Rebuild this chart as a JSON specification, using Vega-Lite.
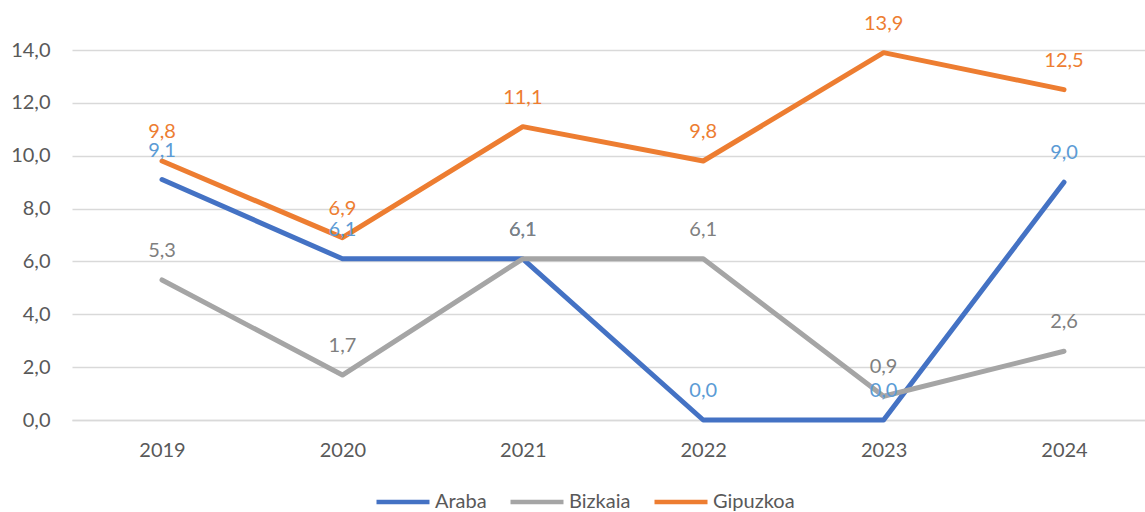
{
  "$schema": "https://vega.github.io/schema/vega-lite/v6.json",
  "width": 1073,
  "height": 370,
  "autosize": "none",
  "padding": {"left": 72, "top": 50, "right": 0, "bottom": 92},
  "background": "white",
  "config": {
    "locale": {"number": {"decimal": ",", "thousands": ".", "grouping": [3], "currency": ["", " €"]}},
    "view": {"stroke": null},
    "font": "Lato",
    "axis": {"labelFont": "Lato", "labelFontSize": 20, "labelColor": "#595959"},
    "legend": {"labelFont": "Lato", "labelFontSize": 20, "labelColor": "#595959"}
  },
  "data": {
    "values": [
      {"year": 2019, "series": "Araba", "value": 9.1},
      {"year": 2020, "series": "Araba", "value": 6.1},
      {"year": 2021, "series": "Araba", "value": 6.1},
      {"year": 2022, "series": "Araba", "value": 0.0},
      {"year": 2023, "series": "Araba", "value": 0.0},
      {"year": 2024, "series": "Araba", "value": 9.0},
      {"year": 2019, "series": "Bizkaia", "value": 5.3},
      {"year": 2020, "series": "Bizkaia", "value": 1.7},
      {"year": 2021, "series": "Bizkaia", "value": 6.1},
      {"year": 2022, "series": "Bizkaia", "value": 6.1},
      {"year": 2023, "series": "Bizkaia", "value": 0.9},
      {"year": 2024, "series": "Bizkaia", "value": 2.6},
      {"year": 2019, "series": "Gipuzkoa", "value": 9.8},
      {"year": 2020, "series": "Gipuzkoa", "value": 6.9},
      {"year": 2021, "series": "Gipuzkoa", "value": 11.1},
      {"year": 2022, "series": "Gipuzkoa", "value": 9.8},
      {"year": 2023, "series": "Gipuzkoa", "value": 13.9},
      {"year": 2024, "series": "Gipuzkoa", "value": 12.5}
    ]
  },
  "encoding": {
    "x": {
      "field": "year",
      "type": "quantitative",
      "scale": {"domain": [2018.501, 2024.449], "nice": false, "zero": false},
      "axis": {
        "title": null,
        "values": [2019, 2020, 2021, 2022, 2023, 2024],
        "format": "d",
        "grid": false,
        "ticks": false,
        "domain": true,
        "domainColor": "#d9d9d9",
        "domainWidth": 1.5,
        "labelPadding": 20
      }
    },
    "y": {
      "field": "value",
      "type": "quantitative",
      "scale": {"domain": [0, 14], "nice": false},
      "axis": {
        "title": null,
        "values": [0, 2, 4, 6, 8, 10, 12, 14],
        "format": ".1f",
        "grid": true,
        "gridColor": "#d9d9d9",
        "gridWidth": 1.5,
        "ticks": false,
        "domain": false,
        "labelPadding": 22
      }
    }
  },
  "layer": [
    {
      "mark": {"type": "line", "strokeWidth": 5, "strokeCap": "round", "strokeJoin": "round"},
      "encoding": {
        "color": {
          "field": "series",
          "type": "nominal",
          "scale": {"domain": ["Araba", "Bizkaia", "Gipuzkoa"], "range": ["#4472C4", "#A5A5A5", "#ED7D31"]},
          "legend": {
            "title": null,
            "orient": "none",
            "direction": "horizontal",
            "legendX": 302,
            "legendY": 423,
            "symbolType": "stroke",
            "symbolSize": 2809,
            "symbolStrokeWidth": 4.5,
            "labelOffset": 3,
            "columnPadding": 14
          }
        }
      }
    },
    {
      "mark": {"type": "text", "baseline": "middle", "dy": -29, "fontSize": 20},
      "encoding": {
        "text": {"field": "value", "type": "quantitative", "format": ".1f"},
        "color": {
          "field": "series",
          "type": "nominal",
          "scale": {"domain": ["Araba", "Bizkaia", "Gipuzkoa"], "range": ["#5B9BD5", "#7F7F7F", "#ED7D31"]},
          "legend": null
        }
      }
    }
  ],
  "resolve": {"scale": {"color": "independent"}}
}
